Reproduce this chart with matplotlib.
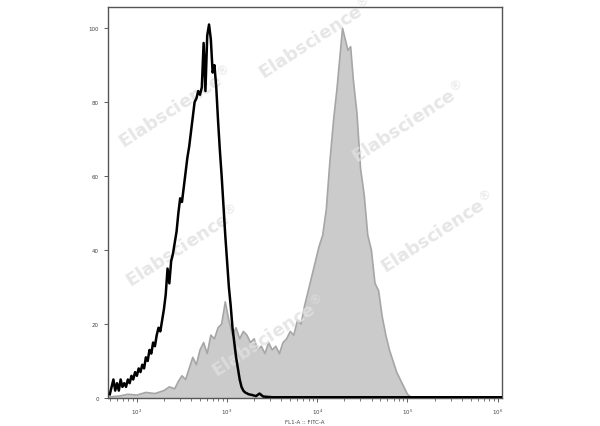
import numpy as np
import matplotlib.pyplot as plt
from matplotlib.ticker import FixedLocator, LogLocator, NullFormatter

# isotype / unstained control (black line), log10 of FITC-A intensity vs count (% of max)
ctrl_log = [1.70, 1.72, 1.74, 1.76, 1.78, 1.80, 1.82, 1.84, 1.86, 1.88, 1.90, 1.92,
            1.94, 1.96, 1.98, 2.00, 2.02, 2.04, 2.06, 2.08, 2.10, 2.12, 2.14, 2.16,
            2.18, 2.20, 2.22, 2.24, 2.26, 2.28, 2.30, 2.32, 2.34, 2.36, 2.38, 2.40,
            2.42, 2.44, 2.46, 2.48, 2.50, 2.52, 2.54, 2.56, 2.58, 2.60, 2.62, 2.64,
            2.66, 2.68, 2.70, 2.72, 2.74, 2.76, 2.78, 2.80, 2.82, 2.84, 2.86, 2.88,
            2.90, 2.92, 2.94, 2.96, 2.98, 3.00, 3.02, 3.04, 3.06, 3.08, 3.10, 3.12,
            3.14, 3.16, 3.18, 3.20, 3.24, 3.28, 3.32, 3.36, 3.40, 3.45, 3.50, 4.0,
            5.0, 6.04]
ctrl_cnt = [1, 3, 5, 2, 4, 2, 5, 3, 4, 3, 5, 4,
            6, 5, 7, 6, 8, 7, 9, 8, 11, 10, 13, 12,
            15, 14, 17, 19, 18, 21, 24, 28, 35, 31, 37, 39,
            42, 45, 50, 54, 53, 57, 61, 65, 68, 72, 76, 80,
            81, 83, 82, 84, 96, 83, 98, 101, 97, 88, 90, 84,
            75, 67, 60, 52, 44, 37, 30, 25, 19, 15, 11, 8,
            5, 3, 2, 1.5, 1, 0.8, 0.5, 1.2, 0.4, 0.3, 0.2, 0.2,
            0.2, 0.2]

# stained sample (grey filled)
samp_log = [1.70, 1.80, 1.90, 2.00, 2.10, 2.20, 2.30, 2.36, 2.42, 2.46, 2.50, 2.54,
            2.58, 2.62, 2.66, 2.70, 2.74, 2.78, 2.82, 2.86, 2.90, 2.94, 2.98, 3.02,
            3.06, 3.10, 3.14, 3.18, 3.22, 3.26, 3.30, 3.34, 3.38, 3.42, 3.46, 3.50,
            3.54, 3.58, 3.62, 3.66, 3.70, 3.74, 3.78, 3.82, 3.86, 3.90, 3.94, 3.98,
            4.02, 4.06, 4.10, 4.14, 4.18, 4.22, 4.25, 4.28, 4.31, 4.34, 4.37, 4.40,
            4.44, 4.48, 4.52, 4.56, 4.60, 4.64, 4.68, 4.72, 4.76, 4.80, 4.84, 4.88,
            4.92, 4.96, 5.00, 5.05]
samp_cnt = [0.3, 0.5, 1.0, 0.8, 1.5, 1.2, 2.0, 3.0, 2.5, 4.5, 6, 5,
            8, 11, 9, 13, 15, 12, 17, 16, 19, 20, 26, 21,
            17, 19, 16, 18, 17, 15, 16, 13, 14, 12, 15, 13,
            14, 12, 15, 16, 18, 17, 21, 20, 25, 29, 33, 37,
            41, 44, 51, 64, 75, 84, 92, 100, 97, 94, 95, 86,
            77, 62, 55, 44, 40, 31, 29, 22, 17, 13, 10, 7,
            5, 3, 1, 0]

# watermark anchors (figure fraction, lower-left of rotated text)
wm_xy = [(0.192, 0.642), (0.425, 0.805), (0.580, 0.607), (0.203, 0.316),
         (0.628, 0.349), (0.347, 0.105)]

xt_log = [2, 3, 4, 5, 6]

ctrl_x = 10 ** np.array(ctrl_log)
samp_x = 10 ** np.array(samp_log)

fig = plt.figure(figsize=(6, 4.27), dpi=100)
ax = fig.add_axes([0.18, 0.0656, 0.657, 0.9154])

ax.fill_between(samp_x, samp_cnt, 0, color='#cbcbcb', edgecolor='none', zorder=1)
ax.plot(samp_x, samp_cnt, color='#a6a6a6', lw=1.2, zorder=2)
ax.plot(ctrl_x, ctrl_cnt, color='black', lw=1.8, zorder=3)

ax.set_xscale('log')
ax.set_xlim(10 ** 1.68, 10 ** 6.05)
ax.set_ylim(0, 105.7)

ax.xaxis.set_major_locator(FixedLocator([10 ** v for v in xt_log]))
ax.xaxis.set_minor_locator(LogLocator(base=10, subs=np.arange(2, 10)))
ax.xaxis.set_minor_formatter(NullFormatter())
ax.set_xticklabels([r'$10^{%d}$' % v for v in xt_log])
ax.set_yticks([0, 20, 40, 60, 80, 100])
ax.tick_params(labelsize=4, colors='#444444', length=3, width=0.6)
ax.tick_params(which='minor', length=2, width=0.5, colors='#444444')
for s in ax.spines.values():
    s.set_color('#555555')
    s.set_linewidth(1.0)
ax.set_xlabel('FL1-A :: FITC-A', fontsize=4, color='#444444', labelpad=2)

# watermark sits over the grey fill but under the black control line
for (wx, wy) in wm_xy:
    ax.text(wx, wy, r'Elabscience$^{\circledR}$', transform=fig.transFigure,
            fontsize=13, fontweight='bold', color='#e0e0e0', alpha=0.8,
            rotation=33, ha='left', va='bottom', zorder=2.5, clip_on=False)

fig.savefig('out.png', dpi=100)
